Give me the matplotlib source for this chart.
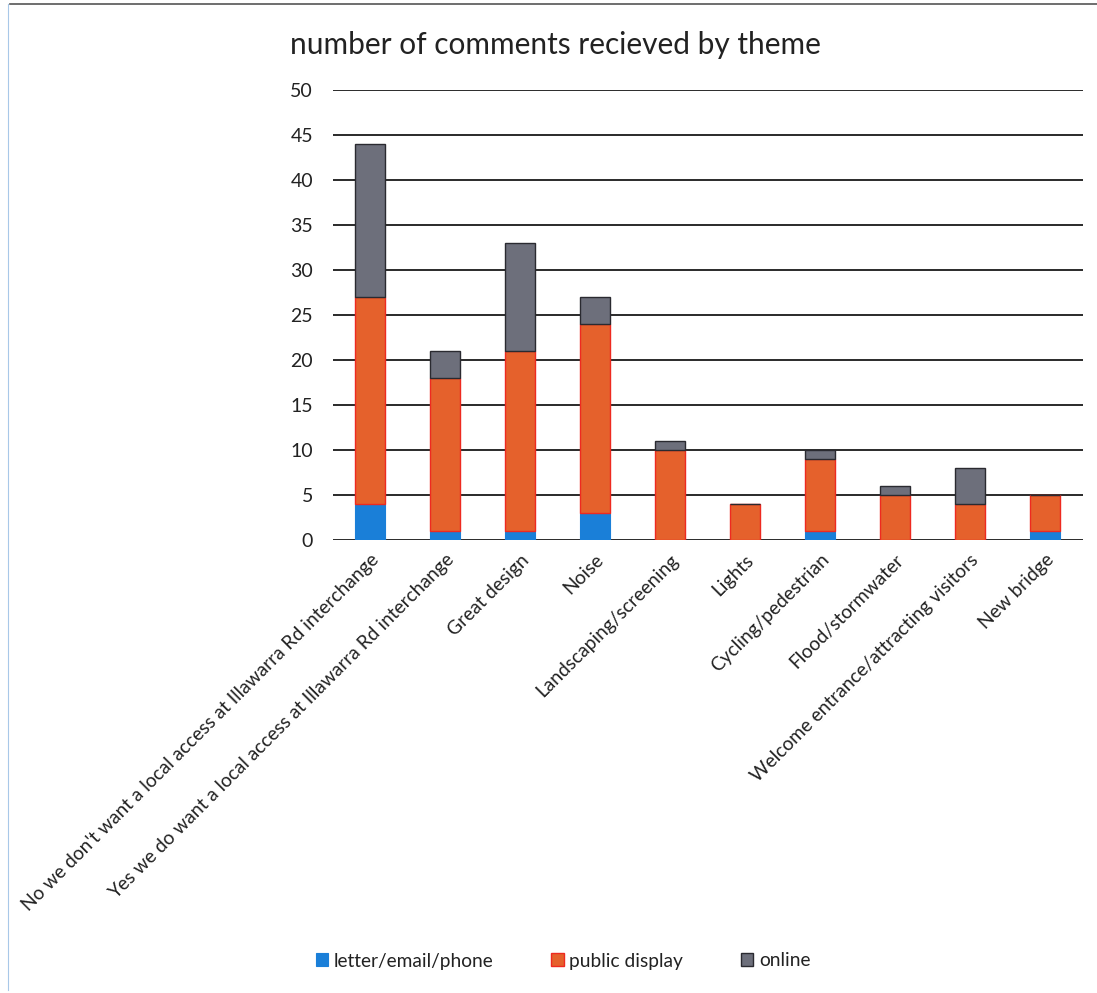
import matplotlib
matplotlib.use("Agg")
import matplotlib.pyplot as plt
from matplotlib.lines import Line2D
import numpy as np

plt.rcParams['font.family'] = ['Lato', 'DejaVu Sans']

categories = [
    "No we don't want a local access at Illawarra Rd interchange",
    "Yes we do want a local access at Illawarra Rd interchange",
    "Great design",
    "Noise",
    "Landscaping/screening",
    "Lights",
    "Cycling/pedestrian",
    "Flood/stormwater",
    "Welcome entrance/attracting visitors",
    "New bridge",
]
letter = [4, 1, 1, 3, 0, 0, 1, 0, 0, 1]
public = [23, 17, 20, 21, 10, 4, 8, 5, 4, 4]
online = [17, 3, 12, 3, 1, 0, 1, 1, 4, 0]
series_names = ["letter/email/phone", "public display", "online"]
yticks = [0, 5, 10, 15, 20, 25, 30, 35, 40, 45, 50]

fig = plt.figure(figsize=(10.97, 9.93), dpi=100)
ax = fig.add_axes([332.5/1097, 1 - 540/993, 750/1097, 450/993])

x = np.arange(len(categories))
w = 0.4
letter_a = np.array(letter)
public_a = np.array(public)
online_a = np.array(online)

ax.bar(x, letter_a, w, color="#1a7fd8", edgecolor="#1a7fd8", linewidth=0.8,
       label=series_names[0], zorder=3)
ax.bar(x, public_a, w, bottom=letter_a, color="#e5612c", edgecolor="#ee2a20",
       linewidth=1.0, label=series_names[1], zorder=3)
ax.bar(x, online_a, w, bottom=letter_a + public_a, color="#6d6f7b",
       edgecolor="#2a2a30", linewidth=1.0, label=series_names[2], zorder=3)

ax.set_xlim(-0.5, len(categories) - 0.5)
ax.set_ylim(0, 50)
ax.set_yticks(yticks)
ax.set_yticklabels([str(v) for v in yticks], fontsize=14, color="#222222")
ax.yaxis.grid(True, color="#2a2a2a", linewidth=1.4, zorder=0)
ax.set_axisbelow(True)
for s in ax.spines.values():
    s.set_visible(False)
ax.tick_params(axis='both', length=0)
ax.tick_params(axis='y', pad=14)

ax.set_xticks(x)
ax.set_xticklabels(categories, rotation=45, ha='right', rotation_mode='anchor',
                   fontsize=13.8, color="#222222")
ax.tick_params(axis='x', pad=8)

fig.text(555/1097, 1 - 45/993, "number of comments recieved by theme",
         ha='center', va='center', fontsize=21.5, color="#222222")

handles, labels = ax.get_legend_handles_labels()
fig.legend(handles, labels, loc='center', bbox_to_anchor=(563/1097, 1 - 961/993),
           ncol=3, frameon=False, fontsize=13.8, handlelength=0.65, handleheight=0.65,
           handletextpad=0.3, columnspacing=3.0, labelcolor="#222222")

# scanned page frame lines
fig.add_artist(Line2D([10/1097, 1.0], [1 - 4/993, 1 - 4/993], transform=fig.transFigure,
                      color="#555555", linewidth=1.2))
fig.add_artist(Line2D([8/1097, 8/1097], [1 - 4/993, 1 - 990/993], transform=fig.transFigure,
                      color="#a8c8e8", linewidth=0.8))

fig.savefig("out.png", dpi=100)
